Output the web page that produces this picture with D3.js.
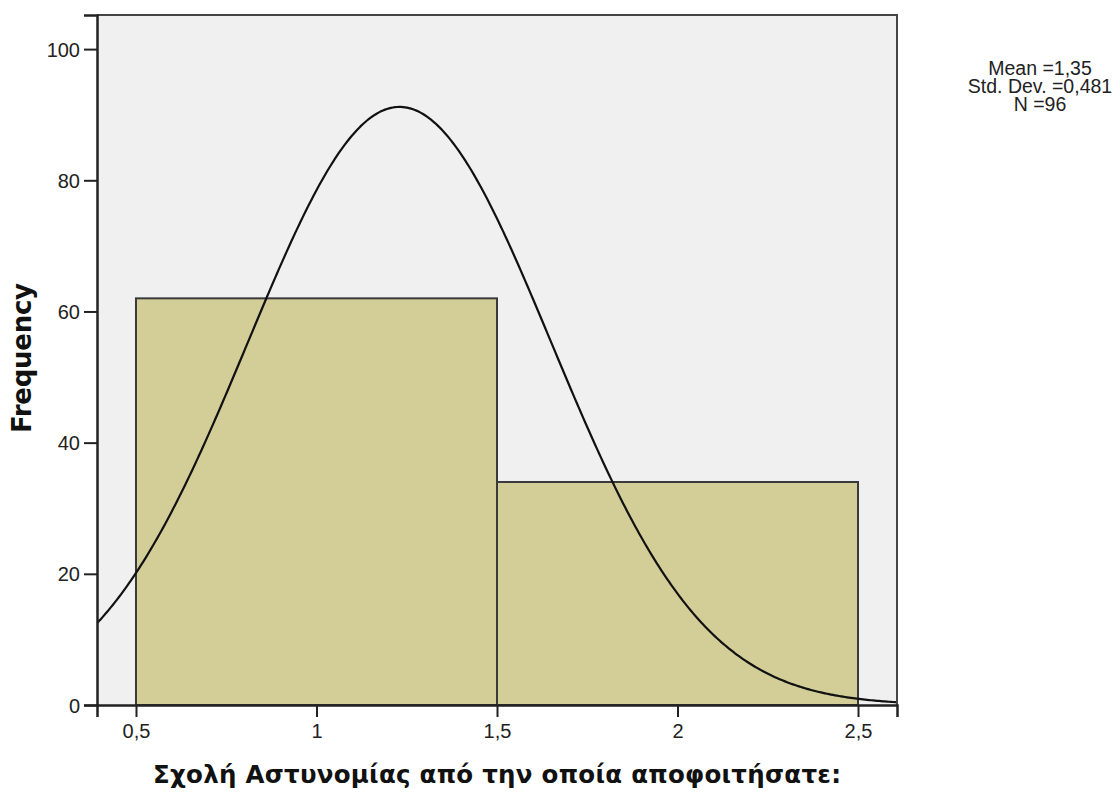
<!DOCTYPE html>
<html>
<head>
<meta charset="utf-8">
<script src="https://cdn.jsdelivr.net/npm/d3@7"></script>
<style>
  html, body { margin: 0; padding: 0; background: #ffffff; }
  svg { display: block; }
</style>
</head>
<body>
<svg id="chart" width="1120" height="797"></svg>
<script>
// Histogram bins (lower edge, upper edge) and their counts
const binStarts = [0.5, 1.5];
const binEnds = [1.5, 2.5];
const binCounts = [62, 34];

// Axis ticks
const xTicks = [0.5, 1, 1.5, 2, 2.5];
const yTicks = [0, 20, 40, 60, 80, 100];

// Summary statistics shown beside the plot
const statLines = ["Mean =1,35", "Std. Dev. =0,481", "N =96"];

// Fitted normal curve overlay
const curveMean = 1.23;
const curveSD = 0.42;
const curveN = 96;
const binWidth = 1;

const xTitle = "Σχολή Αστυνομίας από την οποία αποφοιτήσατε:";
const yTitle = "Frequency";

const svg = d3.select("#chart");
const plot = { left: 97, right: 897, top: 15, bottom: 705 };

const x = d3.scaleLinear().domain([0.392, 2.608]).range([plot.left, plot.right]);
const y = d3.scaleLinear().domain([0, 105.2]).range([plot.bottom, plot.top]);

const fmtComma = d => String(d).replace(".", ",");

// Plot background
svg.append("rect")
  .attr("x", plot.left).attr("y", plot.top)
  .attr("width", plot.right - plot.left).attr("height", plot.bottom - plot.top)
  .attr("fill", "#f0f0f0");

svg.append("clipPath").attr("id", "plotClip")
  .append("rect")
  .attr("x", plot.left).attr("y", plot.top)
  .attr("width", plot.right - plot.left).attr("height", plot.bottom - plot.top);

// Bars
const bins = binCounts.map((c, i) => ({ x0: binStarts[i], x1: binEnds[i], count: c }));
svg.append("g").selectAll("rect").data(bins).join("rect")
  .attr("x", d => x(d.x0))
  .attr("y", d => y(d.count))
  .attr("width", d => x(d.x1) - x(d.x0))
  .attr("height", d => y(0) - y(d.count))
  .attr("fill", "#d3ce97")
  .attr("stroke", "#3a3a3a")
  .attr("stroke-width", 2);

// Normal curve
const normal = v => curveN * binWidth / (curveSD * Math.sqrt(2 * Math.PI)) *
  Math.exp(-((v - curveMean) ** 2) / (2 * curveSD * curveSD));
const xs = d3.range(0, 401).map(i => x.domain()[0] + (x.domain()[1] - x.domain()[0]) * i / 400);
svg.append("path")
  .datum(xs)
  .attr("clip-path", "url(#plotClip)")
  .attr("fill", "none")
  .attr("stroke", "#111")
  .attr("stroke-width", 2.2)
  .attr("d", d3.line().x(d => x(d)).y(d => y(normal(d))));

// Frame (top and right edges)
svg.append("path")
  .attr("d", `M${plot.left},${plot.top}H${plot.right}V${plot.bottom}`)
  .attr("fill", "none").attr("stroke", "#444").attr("stroke-width", 2);

// Y axis
const yAxis = svg.append("g")
  .attr("transform", `translate(${plot.left},0)`)
  .call(d3.axisLeft(y).tickValues(yTicks).tickSize(13).tickPadding(4).tickFormat(d3.format("d")));
// X axis
const xAxis = svg.append("g")
  .attr("transform", `translate(0,${plot.bottom})`)
  .call(d3.axisBottom(x).tickValues(xTicks).tickSize(12).tickPadding(6).tickFormat(fmtComma));

[yAxis, xAxis].forEach(g => {
  g.select(".domain").attr("stroke", "#222").attr("stroke-width", 2.5);
  g.selectAll(".tick line").attr("stroke", "#222").attr("stroke-width", 2);
  g.selectAll(".tick text")
    .attr("fill", "#222")
    .style("font-family", "'Liberation Sans', Arial, sans-serif")
    .style("font-size", "20px");
});
yAxis.selectAll(".tick text").attr("dy", "0.35em");
xAxis.selectAll(".tick text").attr("dy", "0.75em");

// Axis titles
svg.append("text")
  .attr("x", (plot.left + plot.right) / 2)
  .attr("y", 783)
  .attr("text-anchor", "middle")
  .attr("fill", "#111")
  .attr("textLength", 688)
  .attr("lengthAdjust", "spacing")
  .style("font-family", "'DejaVu Sans', sans-serif")
  .style("font-weight", "bold")
  .style("font-size", "24.5px")
  .text(xTitle);

svg.append("text")
  .attr("transform", "translate(31,358) rotate(-90)")
  .attr("text-anchor", "middle")
  .attr("fill", "#111")
  .attr("textLength", 150)
  .attr("lengthAdjust", "spacing")
  .style("font-family", "'DejaVu Sans', sans-serif")
  .style("font-weight", "bold")
  .style("font-size", "26px")
  .text(yTitle);

// Statistics block
svg.append("g").selectAll("text").data(statLines).join("text")
  .attr("x", 1040)
  .attr("y", (d, i) => 75 + i * 18)
  .attr("text-anchor", "middle")
  .attr("fill", "#222")
  .style("font-family", "'Liberation Sans', Arial, sans-serif")
  .style("font-size", "19.5px")
  .text(d => d);
</script>
</body>
</html>
